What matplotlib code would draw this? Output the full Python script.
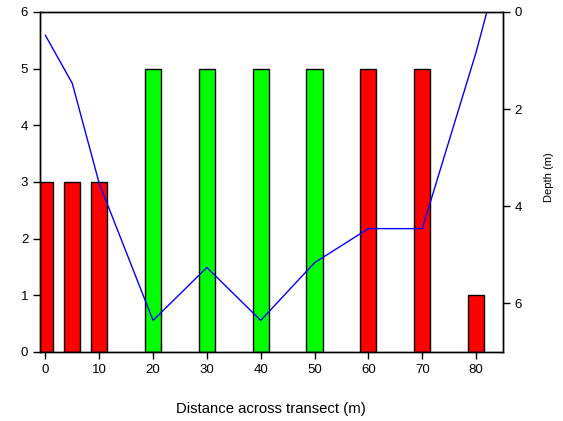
import numpy as np
import matplotlib
matplotlib.use("Agg")
import matplotlib.pyplot as plt

plt.rcParams['font.family'] = ['Liberation Sans', 'DejaVu Sans']
plt.rcParams['font.size'] = 9.5

# Bars: distance across transect and counts
bar_x = [0, 5, 10, 20, 30, 40, 50, 60, 70, 80]
bar_h = [3, 3, 3, 5, 5, 5, 5, 5, 5, 1]
bar_c = ['#ff0000', '#ff0000', '#ff0000', '#00ff00', '#00ff00',
         '#00ff00', '#00ff00', '#ff0000', '#ff0000', '#ff0000']

# Depth profile
depth_x = [0, 5, 10, 20, 30, 40, 50, 60, 70, 80, 82]
depth_y = [0.48, 1.47, 3.53, 6.35, 5.26, 6.35, 5.16, 4.46, 4.46, 0.83, 0.0]

fig = plt.figure(figsize=(5.63, 4.21), dpi=100)
ax = fig.add_axes([40/563, 1 - 352/421, 463/563, 340/421])
ax.bar(bar_x, bar_h, width=3, color=bar_c, edgecolor='black', linewidth=1)
ax.set_xlim(-1, 85)
ax.set_ylim(0, 6)
ax.set_xticks([0, 10, 20, 30, 40, 50, 60, 70, 80])
ax.set_yticks(range(7))
ax.tick_params(direction='out', length=5, width=1)

ax2 = ax.twinx()
ax2.plot(depth_x, depth_y, color='#0000ff', linewidth=1)
ax2.set_ylim(7, 0)
ax2.set_yticks([0, 2, 4, 6])
ax2.tick_params(direction='out', length=5, width=1)

for a in (ax, ax2):
    for s in a.spines.values():
        s.set_linewidth(1)

# axis titles
fig.text(270.5/563, 1 - 409/421, 'Distance across transect (m)',
         fontsize=10.7, ha='center', va='center')
fig.text(549/563, 1 - 177/421, 'Depth (m)', fontsize=8,
         rotation=90, ha='center', va='center')

fig.savefig('out.png', dpi=100)
